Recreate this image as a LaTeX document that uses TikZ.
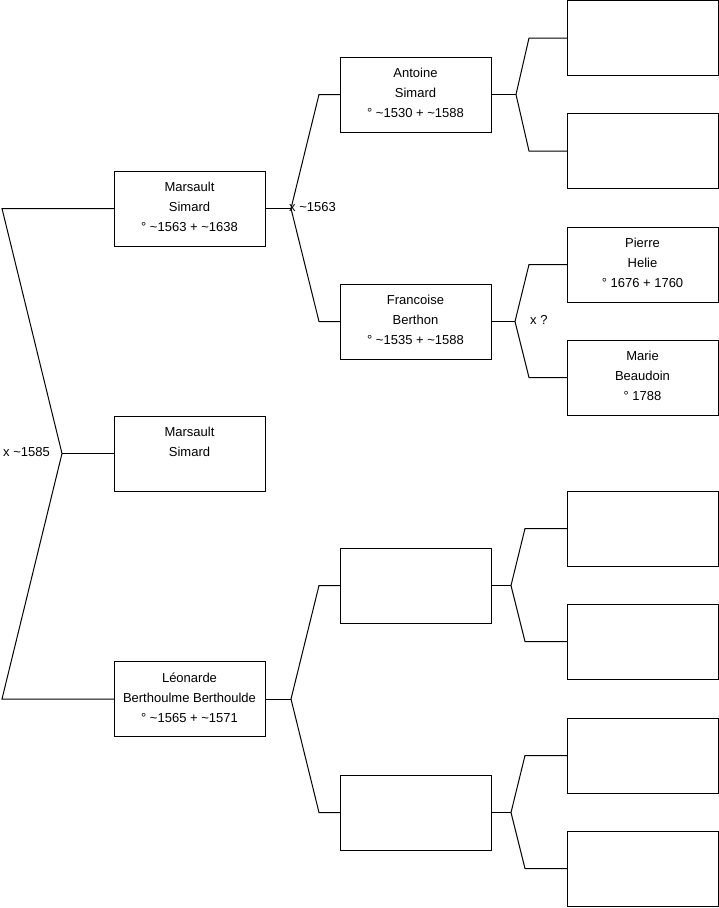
\documentclass[tikz,border=0pt]{standalone}
\usepackage{fontspec}
\setmainfont{Liberation Sans}
\begin{document}
\begin{tikzpicture}[x=1pt,y=-1pt,
  pbox/.style={draw=black,line width=1pt,minimum width=151pt,minimum height=75pt,inner sep=0pt,outer sep=0pt,align=center,text depth=3.5pt,font=\fontsize{13pt}{20pt}\selectfont},
  conn/.style={draw=black,line width=1pt},
  lbl/.style={anchor=west,inner sep=0pt,font=\fontsize{13pt}{15pt}\selectfont}]
\useasboundingbox (0,0) rectangle (719,908);
% generation 1
\node[pbox] (ms1) at (189.5,208.5) {Marsault\\Simard\\° \textasciitilde1563 + \textasciitilde1638};
\node[pbox] (ms2) at (189.5,453.5) {Marsault\\Simard\\\strut};
\node[pbox] (leo) at (189.5,699) {Léonarde\\Berthoulme Berthoulde\\° \textasciitilde1565 + \textasciitilde1571};
% generation 2
\node[pbox] (ant) at (415.5,94.5) {Antoine\\Simard\\° \textasciitilde1530 + \textasciitilde1588};
\node[pbox] (fra) at (415.5,321.5) {Francoise\\Berthon\\° \textasciitilde1535 + \textasciitilde1588};
\node[pbox] (e1) at (415.5,585.5) {};
\node[pbox] (e2) at (415.5,812.5) {};
% generation 3
\node[pbox] (g1) at (642.5,38) {};
\node[pbox] (g2) at (642.5,151) {};
\node[pbox] (pie) at (642.5,264.5) {Pierre\\Helie\\° 1676 + 1760};
\node[pbox] (mar) at (642.5,377.5) {Marie\\Beaudoin\\° 1788};
\node[pbox] (g5) at (642.5,528.5) {};
\node[pbox] (g6) at (642.5,641.5) {};
\node[pbox] (g7) at (642.5,755.5) {};
\node[pbox] (g8) at (642.5,868.5) {};
% fork points
\coordinate (f1) at (62,453.5);
\coordinate (f2) at (291,208.5);
\coordinate (f3) at (516,94.5);
\coordinate (f4) at (515,321.5);
\coordinate (f5) at (291,699);
\coordinate (f6) at (511,585.5);
\coordinate (f7) at (511,812.5);
% connectors
\draw[conn] (ms1.west) -- (2,208.5) -- (f1) -- (2,699) -- (leo.west);
\draw[conn] (f1) -- (ms2.west);
\draw[conn] (ms1.east) -- (f2);
\draw[conn] (ant.west) -- (319,94.5) -- (f2) -- (319,321.5) -- (fra.west);
\draw[conn] (ant.east) -- (f3);
\draw[conn] (g1.west) -- (529,38) -- (f3) -- (529,151) -- (g2.west);
\draw[conn] (fra.east) -- (f4);
\draw[conn] (pie.west) -- (529,264.5) -- (f4) -- (529,377.5) -- (mar.west);
\draw[conn] (leo.east) -- (f5);
\draw[conn] (e1.west) -- (319,585.5) -- (f5) -- (319,812.5) -- (e2.west);
\draw[conn] (e1.east) -- (f6);
\draw[conn] (g5.west) -- (525,528.5) -- (f6) -- (525,641.5) -- (g6.west);
\draw[conn] (e2.east) -- (f7);
\draw[conn] (g7.west) -- (525,755.5) -- (f7) -- (525,868.5) -- (g8.west);
% labels
\node[lbl] (l1) at (3,452) {x \textasciitilde1585};
\node[lbl] (l2) at (289,207) {x \textasciitilde1563};
\node[lbl] (l3) at (530,320) {x ?};
\end{tikzpicture}
\end{document}
